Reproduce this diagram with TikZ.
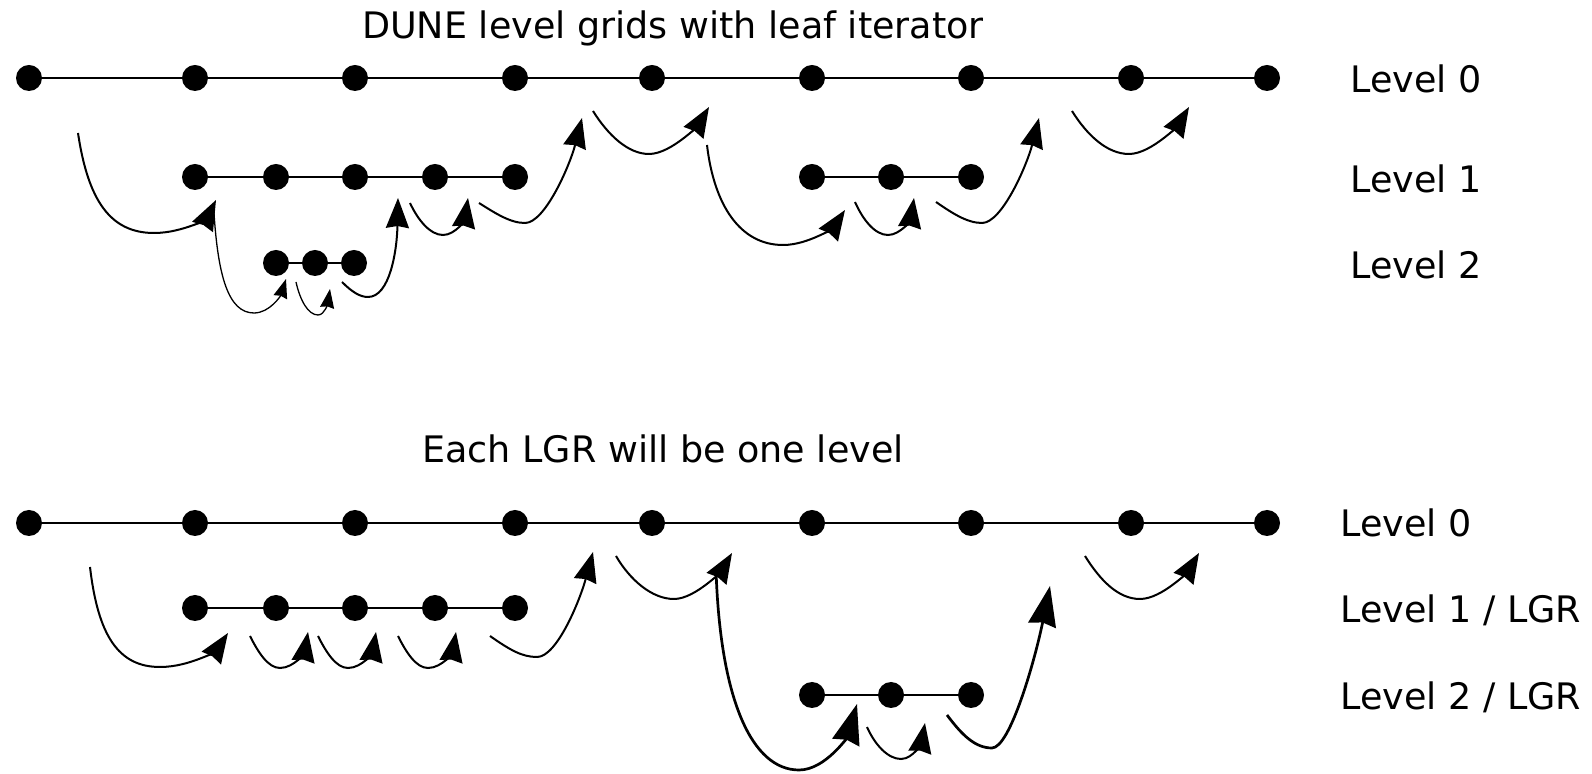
\documentclass[tikz,border=0pt]{standalone}
\usepackage{fontspec}
\setmainfont{DejaVu Sans}
\usetikzlibrary{arrows.meta}
\tikzset{
  dot/.style={circle, fill=black, inner sep=0pt, minimum size=13pt},
  gridline/.style={line width=1pt},
  hop/.style={line width=1pt, -{Stealth[length=15pt,width=11.5pt,inset=1pt]}},
  hopthin/.style={line width=0.65pt, -{Stealth[length=9.5pt,width=7pt,inset=0.7pt]}},
  hopthick/.style={line width=1.35pt, -{Stealth[length=20pt,width=14pt,inset=1.4pt]}},
  lvltext/.style={anchor=base west, inner sep=0pt, font=\fontsize{18.25}{22}\selectfont},
  headline/.style={anchor=base, inner sep=0pt, font=\fontsize{18.25}{22}\selectfont},
}
\begin{document}
\begin{tikzpicture}[x=0.5pt, y=-0.5pt]
\useasboundingbox (0,0) rectangle (1592,774);

% ---------------- upper part: DUNE level grids ----------------
\node[headline] (t1) at (673,39) {DUNE level grids with leaf iterator};

% level 0
\foreach \n/\x in {0/29,1/195,2/355,3/515,4/652,5/812,6/971,7/1131,8/1267}
  \node[dot] (u0\n) at (\x,78) {};
\foreach \a/\b in {0/1,1/2,2/3,3/4,4/5,5/6,6/7,7/8}
  \draw[gridline] (u0\a) -- (u0\b);

% level 1
\foreach \n/\x in {0/195,1/276,2/355,3/435,4/515}
  \node[dot] (u1\n) at (\x,177) {};
\foreach \n/\x in {5/812,6/891,7/971}
  \node[dot] (u1\n) at (\x,177) {};
\foreach \a/\b in {0/1,1/2,2/3,3/4,5/6,6/7}
  \draw[gridline] (u1\a) -- (u1\b);

% level 2
\foreach \n/\x in {0/276,1/315,2/354}
  \node[dot] (u2\n) at (\x,263) {};
\draw[gridline] (u20) -- (u21);
\draw[gridline] (u21) -- (u22);

\node[lvltext] (ul0) at (1350,93) {Level 0};
\node[lvltext] (ul1) at (1350,193) {Level 1};
\node[lvltext] (ul2) at (1350,279) {Level 2};

% leaf iteration order
\draw[hop] (78,133) .. controls (88,200) and (110,233) .. (154,233) .. controls (185,233) and (208,216) .. (216,200);
\draw[hopthin] (214,213) .. controls (218,275) and (228,313) .. (254,313) .. controls (270,313) and (281,295) .. (286,279);
\draw[hopthin] (296,282) .. controls (300,300) and (308,315) .. (318,315) .. controls (325,315) and (328,302) .. (330,289);
\draw[hop] (342,282) .. controls (352,292) and (360,297) .. (368,297) .. controls (390,297) and (397,250) .. (398,198);
\draw[hop] (410,203) .. controls (418,220) and (430,235) .. (443,235) .. controls (456,235) and (465,218) .. (468,198);
\draw[hop] (479,203) .. controls (495,213) and (510,223) .. (525,223) .. controls (545,223) and (570,165) .. (582,118);
\draw[hop] (593,111) .. controls (608,135) and (628,154) .. (649,154) .. controls (672,154) and (700,122) .. (709,107);
\draw[hop] (707,145) .. controls (714,205) and (740,245) .. (783,245) .. controls (810,245) and (835,225) .. (845,210);
\draw[hop] (855,202) .. controls (863,220) and (875,235) .. (888,235) .. controls (901,235) and (911,218) .. (914,198);
\draw[hop] (936,202) .. controls (952,213) and (967,223) .. (982,223) .. controls (1002,223) and (1027,165) .. (1039,118);
\draw[hop] (1072,111) .. controls (1087,135) and (1107,154) .. (1129,154) .. controls (1152,154) and (1180,122) .. (1189,107);

% ---------------- lower part: one level per LGR ----------------
\node[headline] (t2) at (663,463) {Each LGR will be one level};

% level 0
\foreach \n/\x in {0/29,1/195,2/355,3/515,4/652,5/812,6/971,7/1131,8/1267}
  \node[dot] (d0\n) at (\x,523) {};
\foreach \a/\b in {0/1,1/2,2/3,3/4,4/5,5/6,6/7,7/8}
  \draw[gridline] (d0\a) -- (d0\b);

% level 1 / LGR
\foreach \n/\x in {0/195,1/276,2/355,3/435,4/515}
  \node[dot] (d1\n) at (\x,608) {};
\foreach \a/\b in {0/1,1/2,2/3,3/4}
  \draw[gridline] (d1\a) -- (d1\b);

% level 2 / LGR
\foreach \n/\x in {0/812,1/891,2/971}
  \node[dot] (d2\n) at (\x,695) {};
\draw[gridline] (d20) -- (d21);
\draw[gridline] (d21) -- (d22);

\node[lvltext] (dl0) at (1340,537) {Level 0};
\node[lvltext] (dl1) at (1340,623) {Level 1 / LGR};
\node[lvltext] (dl2) at (1340,710) {Level 2 / LGR};

% iteration order
\draw[hop] (90,567) .. controls (98,635) and (118,667) .. (160,667) .. controls (192,667) and (218,648) .. (228,633);
\draw[hop] (250,636) .. controls (258,652) and (268,668) .. (280,668) .. controls (295,668) and (305,650) .. (308,632);
\draw[hop] (318,636) .. controls (326,652) and (336,668) .. (348,668) .. controls (363,668) and (373,650) .. (376,632);
\draw[hop] (398,636) .. controls (406,652) and (416,668) .. (428,668) .. controls (443,668) and (453,650) .. (456,632);
\draw[hop] (490,636) .. controls (510,650) and (522,657) .. (537,657) .. controls (557,657) and (580,600) .. (593,552);
\draw[hop] (616,556) .. controls (630,580) and (652,599) .. (674,599) .. controls (696,599) and (723,568) .. (732,553);
\draw[hopthick] (716,569) .. controls (720,700) and (752,770) .. (799,770) .. controls (826,770) and (848,735) .. (857,704);
\draw[hop] (867,727) .. controls (875,745) and (888,759) .. (901,759) .. controls (914,759) and (922,740) .. (925,723);
\draw[hopthick] (947,715) .. controls (962,735) and (975,748) .. (992,748) .. controls (1010,748) and (1035,660) .. (1050,586);
\draw[hop] (1085,556) .. controls (1100,580) and (1118,599) .. (1140,599) .. controls (1163,599) and (1190,568) .. (1199,553);
\end{tikzpicture}
\end{document}
